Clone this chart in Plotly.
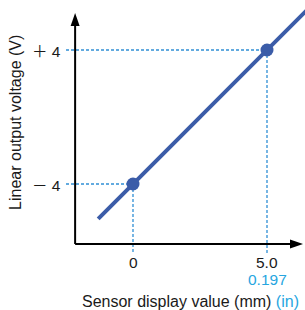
import plotly.graph_objects as go

# ---- data ----
sensor_mm = [0, 5.0]                 # marked points (mm)
voltage_v = [-4, 4]                  # output voltage at marked points (V)
x_tick_labels = ["0", "5.0"]
x_tick_labels_in = ["", "0.197"]     # inch equivalents (cyan)
y_tick_signs = ["\uff0d", "\uff0b"]
y_tick_values = ["4", "4"]
line_mm = [-1.3, 6.6]                # extent of the characteristic line (mm)
line_v = [-6.08, 6.56]               # corresponding voltage (V)

# ---- layout constants ----
X_RANGE = [-4.963, 6.418]
Y_RANGE = [-11.52, 6.985]
X0, Y0 = -2.16, -7.58                # axis origin
X_TIP, Y_TIP = 6.344, 6.209          # arrow tips
GUIDE_LEFT, GUIDE_BOTTOM = -2.5, -8.12
LINE_COLOR = "#3b5ca8"
GUIDE_COLOR = "#2f8fd5"
CYAN = "#27a6df"
TEXT = "#1a1a1a"
FONT = "Liberation Sans, Arial, sans-serif"
CJK = "Noto Sans CJK JP"

fig = go.Figure()

# characteristic line
fig.add_trace(go.Scatter(x=line_mm, y=line_v, mode="lines",
                         line=dict(color=LINE_COLOR, width=4),
                         hoverinfo="skip", showlegend=False))
# marked points
fig.add_trace(go.Scatter(x=sensor_mm, y=voltage_v, mode="markers",
                         marker=dict(color=LINE_COLOR, size=13),
                         hoverinfo="skip", showlegend=False))

shapes = []
# guide lines
for xm, yv in zip(sensor_mm, voltage_v):
    shapes.append(dict(type="line", x0=GUIDE_LEFT, x1=xm, y0=yv, y1=yv,
                       line=dict(color=GUIDE_COLOR, width=1.3, dash="3px,2px"),
                       layer="below"))
    shapes.append(dict(type="line", x0=xm, x1=xm, y0=yv, y1=GUIDE_BOTTOM,
                       line=dict(color=GUIDE_COLOR, width=1.3, dash="3px,2px"),
                       layer="below"))
# axes
shapes.append(dict(type="line", x0=X0, x1=X0, y0=Y0, y1=Y_TIP - 0.5,
                   line=dict(color="black", width=2)))
shapes.append(dict(type="line", x0=X0, x1=X_TIP - 0.3, y0=Y0, y1=Y0,
                   line=dict(color="black", width=2)))
# arrow heads (pixel-sized)
shapes.append(dict(type="path", xsizemode="pixel", ysizemode="pixel",
                   xanchor=X0, yanchor=Y_TIP,
                   path="M0,0 L-4.5,-13 L4.5,-13 Z",
                   fillcolor="black", line=dict(width=0)))
shapes.append(dict(type="path", xsizemode="pixel", ysizemode="pixel",
                   xanchor=X_TIP, yanchor=Y0,
                   path="M0,0 L-13,4.5 L-13,-4.5 Z",
                   fillcolor="black", line=dict(width=0)))

annotations = []
for yv, sign, val in zip(voltage_v, y_tick_signs, y_tick_values):
    annotations.append(dict(x=-2.62, y=yv,
                            text="<span style='font-family:%s'>%s</span> %s" % (CJK, sign, val),
                            showarrow=False, xanchor="right", yanchor="middle",
                            font=dict(family=FONT, size=15.5, color=TEXT)))
for xm, lab, lab_in in zip(sensor_mm, x_tick_labels, x_tick_labels_in):
    annotations.append(dict(x=xm, y=-8.66, text=lab, showarrow=False,
                            xanchor="center", yanchor="middle",
                            font=dict(family=FONT, size=15.5, color=TEXT)))
    if lab_in:
        annotations.append(dict(x=xm, y=-9.67, text=lab_in, showarrow=False,
                                xanchor="center", yanchor="middle",
                                font=dict(family=FONT, size=15.5, color=CYAN)))
annotations.append(dict(x=2.15, y=-11.04, showarrow=False,
                        text="Sensor display value (mm) <span style='color:%s'>(in)</span>" % CYAN,
                        xanchor="center", yanchor="middle",
                        font=dict(family=FONT, size=16, color=TEXT)))
annotations.append(dict(x=-4.366, y=-0.35, showarrow=False, textangle=-90,
                        text="Linear output voltage (V)",
                        xanchor="center", yanchor="middle",
                        font=dict(family=FONT, size=16, color=TEXT)))

fig.update_layout(
    width=305, height=310,
    margin=dict(l=0, r=0, t=0, b=0),
    paper_bgcolor="white", plot_bgcolor="white",
    xaxis=dict(range=X_RANGE, visible=False, fixedrange=True),
    yaxis=dict(range=Y_RANGE, visible=False, fixedrange=True),
    shapes=shapes, annotations=annotations,
    showlegend=False,
)

fig.write_html("out.html", config={"displayModeBar": False},
               post_script="document.body.style.margin='0';document.body.style.overflow='hidden';")
